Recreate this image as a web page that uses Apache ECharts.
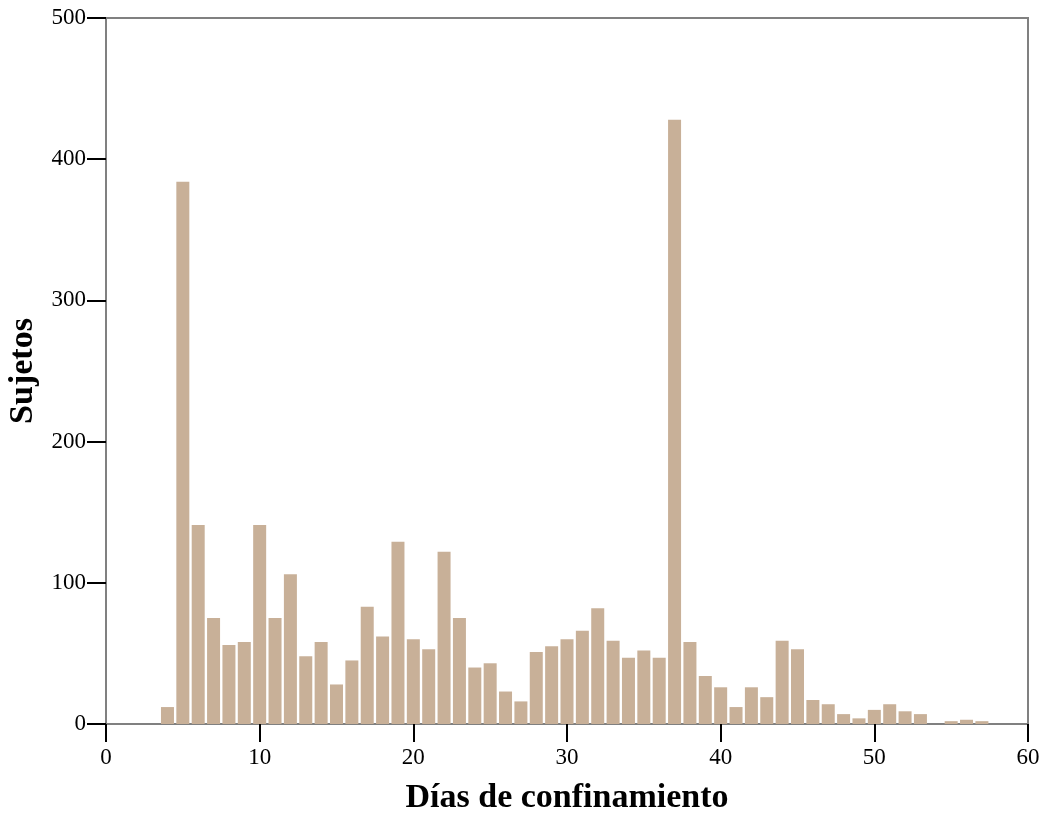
<!DOCTYPE html>
<html>
<head>
<meta charset="utf-8">
<script src="https://cdn.jsdelivr.net/npm/echarts@6/dist/echarts.min.js"></script>
<style>
  html, body { margin: 0; padding: 0; background: #fff; }
  #myChart { width: 1046px; height: 814px; }
</style>
</head>
<body>
<div id="myChart"></div>
<script>
// días de confinamiento (x) y número de sujetos (y)
const dias = [4, 5, 6, 7, 8, 9, 10, 11, 12, 13, 14, 15, 16, 17, 18, 19, 20, 21, 22, 23, 24, 25,
  26, 27, 28, 29, 30, 31, 32, 33, 34, 35, 36, 37, 38, 39, 40, 41, 42, 43, 44, 45, 46, 47, 48,
  49, 50, 51, 52, 53, 54, 55, 56, 57]
const sujetos = [12, 384, 141, 75, 56, 58, 141, 75, 106, 48, 58, 28, 45, 83, 62, 129, 60, 53, 122, 75, 40, 43,
  23, 16, 51, 55, 60, 66, 82, 59, 47, 52, 47, 428, 58, 34, 26, 12, 26, 19, 59, 53, 17, 14, 7,
  4, 10, 14, 9, 7, 0, 2, 3, 2]
const xTicks = [0, 10, 20, 30, 40, 50, 60]
const yTicks = [0, 100, 200, 300, 400, 500]

const font = '"Liberation Serif", "DejaVu Serif", serif'
const barData = dias.map((d, i) => [d, sujetos[i]])

const myChart = echarts.init(document.getElementById('myChart'))
myChart.setOption({
  animation: false,
  backgroundColor: '#fff',
  grid: {
    left: 106, right: 18, top: 18, bottom: 90,
    outerBoundsMode: 'none',
    containLabel: false,
    show: true,
    borderColor: '#808080',
    borderWidth: 2
  },
  xAxis: {
    type: 'value',
    min: xTicks[0],
    max: xTicks[xTicks.length - 1],
    interval: 10,
    name: 'Días de confinamiento',
    nameLocation: 'middle',
    nameGap: 57,
    nameTextStyle: { fontFamily: font, fontSize: 34, fontWeight: 'bold', color: '#000' },
    axisLine: { show: true, lineStyle: { color: '#808080', width: 2 } },
    axisTick: { show: true, length: 18, lineStyle: { color: '#000', width: 2 } },
    axisLabel: { fontFamily: font, fontSize: 23, color: '#000', margin: 22 },
    splitLine: { show: false }
  },
  yAxis: {
    type: 'value',
    min: yTicks[0],
    max: yTicks[yTicks.length - 1],
    interval: 100,
    name: 'Sujetos',
    nameLocation: 'middle',
    nameGap: 66,
    nameTextStyle: { fontFamily: font, fontSize: 34, fontWeight: 'bold', color: '#000' },
    axisLine: { show: true, lineStyle: { color: '#808080', width: 2 } },
    axisTick: { show: true, length: 19, lineStyle: { color: '#000', width: 2 } },
    axisLabel: { fontFamily: font, fontSize: 23, color: '#000', margin: 20 },
    splitLine: { show: false }
  },
  series: [{
    type: 'bar',
    data: barData,
    barWidth: 13,
    itemStyle: { color: '#c8b098' }
  }]
})
</script>
</body>
</html>
